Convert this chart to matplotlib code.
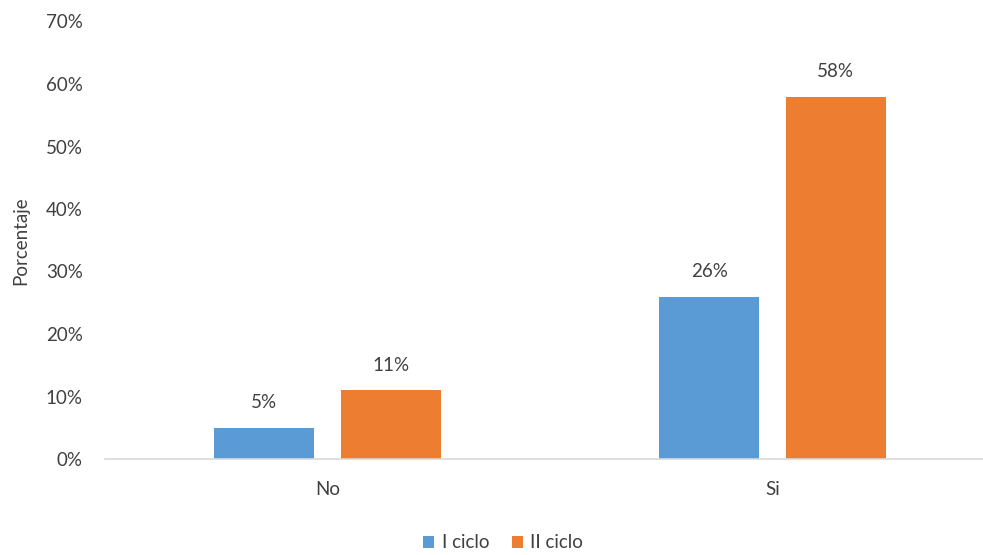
import matplotlib.pyplot as plt
import numpy as np

categorias = ['No', 'Si']
i_ciclo = [5, 26]
ii_ciclo = [11, 58]
series = ['I ciclo', 'II ciclo']

plt.rcParams['font.family'] = ['Lato', 'DejaVu Sans']
gris = '#404040'

fig = plt.figure(figsize=(9.83, 5.55), dpi=100)
ax = fig.add_axes([105 / 983, 96 / 555, 890 / 983, 437.5 / 555])

x = np.arange(len(categorias))
ancho = 0.225
b1 = ax.bar(x - 0.142, i_ciclo, ancho, color='#5B9BD5', label=series[0])
b2 = ax.bar(x + 0.142, ii_ciclo, ancho, color='#ED7D31', label=series[1])

for barras in (b1, b2):
    for b in barras:
        ax.annotate('%d%%' % round(b.get_height()),
                    (b.get_x() + b.get_width() / 2, b.get_height()),
                    xytext=(0, 12), textcoords='offset points',
                    ha='center', va='bottom', fontsize=13.5, color=gris)

ax.set_xlim(-0.5, 1.5)
ax.set_ylim(0, 70)
ax.set_yticks(np.arange(0, 71, 10))
ax.set_yticklabels(['%d%%' % v for v in range(0, 71, 10)])
ax.set_xticks(x)
ax.set_xticklabels(categorias)
ax.tick_params(axis='both', length=0, labelsize=13.5, colors=gris)
ax.tick_params(axis='y', pad=16)
ax.tick_params(axis='x', pad=16)

for lado in ['top', 'right', 'left']:
    ax.spines[lado].set_visible(False)
ax.spines['bottom'].set_color('#D9D9D9')
ax.spines['bottom'].set_linewidth(1.2)

ax.set_ylabel('Porcentaje', fontsize=13.5, color=gris, labelpad=12)

fig.legend(loc='center', bbox_to_anchor=(503 / 983, 1 - 543 / 555), ncol=2,
           frameon=False, fontsize=13.5, handlelength=0.6, handleheight=0.6,
           handletextpad=0.4, columnspacing=1.2, labelcolor=gris)

fig.savefig('out.png', dpi=100)
